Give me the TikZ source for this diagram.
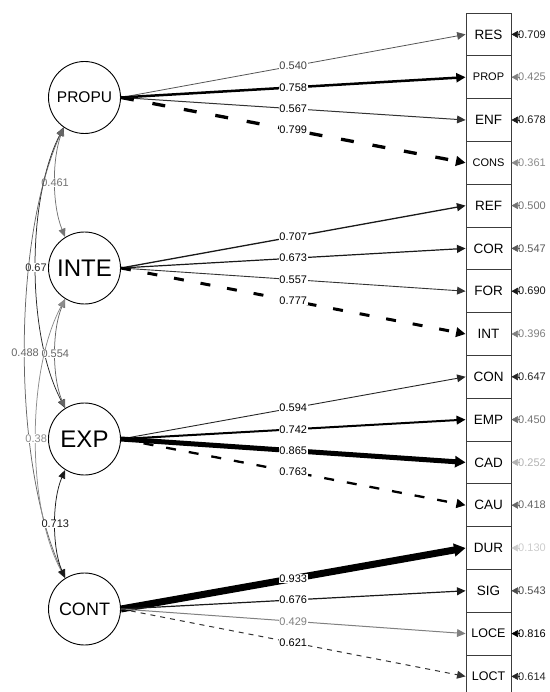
\documentclass[tikz,border=0pt]{standalone}
\usepackage{fontspec}
\setmainfont{Liberation Sans}
\usepackage{tikz}
\usetikzlibrary{arrows.meta}
\definecolor{boxline}{RGB}{60,60,60}
\definecolor{faintline}{RGB}{85,85,85}
\definecolor{palegray}{RGB}{128,128,128}

\begin{document}
\begin{tikzpicture}[x=1pt,y=-1pt,
  every node/.style={font=\fontsize{11}{12}\selectfont},
  latent/.style={circle,draw,line width=0.9pt,minimum size=72pt,inner sep=0pt},
  manifest/.style={rectangle,draw=boxline,line width=0.9pt,minimum width=45pt,minimum height=42.8pt,inner sep=0pt,font=\fontsize{13.5}{14}\selectfont},
  loadtip/.style={-{Triangle[length=8pt 0.5,width=7pt 0.8]}},
  load/.style={loadtip,line width=#1},
  wlabel/.style={fill=white,inner sep=0.6pt},
  reslabel/.style={inner sep=0pt},
  restip/.style={-{Triangle[length=6.5pt,width=7pt]},line width=0.6pt},
  cov/.style={{Triangle[length=8.5pt,width=7pt]}-{Triangle[length=8.5pt,width=7pt]},line width=0.75pt}]
  \useasboundingbox (0,0) rectangle (549,692);
  % latent variables
  \node[latent,font=\fontsize{15.5}{16}\selectfont] (propu) at (84.5,97.5) {PROPU};
  \node[latent,font=\fontsize{24}{24}\selectfont] (inte) at (84.5,268) {INTE};
  \node[latent,font=\fontsize{24}{24}\selectfont] (exp) at (84.5,439) {EXP};
  \node[latent,font=\fontsize{18}{18}\selectfont] (cont) at (84.5,609) {CONT};
  % observed indicators
  \node[manifest] (res) at (488.5,34.4) {RES};
  \node[manifest,font=\fontsize{11}{12}\selectfont] (prop) at (488.5,77.2) {PROP};
  \node[manifest] (enf) at (488.5,120.0) {ENF};
  \node[manifest,font=\fontsize{11}{12}\selectfont] (cons) at (488.5,162.8) {CONS};
  \node[manifest] (ref) at (488.5,205.6) {REF};
  \node[manifest] (cor) at (488.5,248.4) {COR};
  \node[manifest] (for) at (488.5,291.2) {FOR};
  \node[manifest] (int) at (488.5,334.0) {INT};
  \node[manifest] (con) at (488.5,376.8) {CON};
  \node[manifest] (emp) at (488.5,419.6) {EMP};
  \node[manifest] (cad) at (488.5,462.4) {CAD};
  \node[manifest] (cau) at (488.5,505.2) {CAU};
  \node[manifest] (dur) at (488.5,548.0) {DUR};
  \node[manifest] (sig) at (488.5,590.8) {SIG};
  \node[manifest,font=\fontsize{12.5}{13}\selectfont] (loce) at (488.5,633.6) {LOCE};
  \node[manifest,font=\fontsize{12.5}{13}\selectfont] (loct) at (488.5,676.4) {LOCT};
  % loadings
  \draw[load=0.8pt,faintline] (propu.east) -- node[wlabel,text=black!75] (lres) {0.540} (res.west);
  \draw[load=2.5pt] (propu.east) -- node[wlabel] (lprop) {0.758} (prop.west);
  \draw[load=1pt,black!80] (propu.east) -- node[wlabel,text=black] (lenf) {0.567} (enf.west);
  \draw[load=3.3pt,dash pattern=on 13pt off 19pt] (propu.east) -- node[wlabel] (lcons) {0.799} (cons.west);
  \draw[load=1.3pt,black!90] (inte.east) -- node[wlabel,text=black] (lref) {0.707} (ref.west);
  \draw[load=1.2pt,black!90] (inte.east) -- node[wlabel,text=black] (lcor) {0.673} (cor.west);
  \draw[load=0.9pt,black!80] (inte.east) -- node[wlabel,text=black] (lfor) {0.557} (for.west);
  \draw[load=3pt,dash pattern=on 10pt off 17pt] (inte.east) -- node[wlabel] (lint) {0.777} (int.west);
  \draw[load=0.9pt,black!85] (exp.east) -- node[wlabel,text=black] (lcon) {0.594} (con.west);
  \draw[load=2pt] (exp.east) -- node[wlabel] (lemp) {0.742} (emp.west);
  \draw[load=5pt] (exp.east) -- node[wlabel] (lcad) {0.865} (cad.west);
  \draw[load=2.3pt,dash pattern=on 10pt off 13pt] (exp.east) -- node[wlabel] (lcau) {0.763} (cau.west);
  \draw[load=7pt] (cont.east) -- node[wlabel] (ldur) {0.933} (dur.west);
  \draw[load=1.2pt,black!90] (cont.east) -- node[wlabel,text=black] (lsig) {0.676} (sig.west);
  \draw[load=1pt,palegray] (cont.east) -- node[wlabel] (lloce) {0.429} (loce.west);
  \draw[load=1pt,black!80,dash pattern=on 5pt off 5pt] (cont.east) -- node[wlabel,text=black] (lloct) {0.621} (loct.west);
  % residual variances
  \node[reslabel,text=black!90] (eres) at (532,34.4) {0.709};
  \node[reslabel,text=black!50] (eprop) at (532,77.2) {0.425};
  \node[reslabel,text=black!90] (eenf) at (532,120.0) {0.678};
  \node[reslabel,text=black!45] (econs) at (532,162.8) {0.361};
  \node[reslabel,text=black!55] (eref) at (532,205.6) {0.500};
  \node[reslabel,text=black!65] (ecor) at (532,248.4) {0.547};
  \node[reslabel,text=black!90] (efor) at (532,291.2) {0.690};
  \node[reslabel,text=black!50] (eint) at (532,334.0) {0.396};
  \node[reslabel,text=black!85] (econ) at (532,376.8) {0.647};
  \node[reslabel,text=black!55] (eemp) at (532,419.6) {0.450};
  \node[reslabel,text=black!30] (ecad) at (532,462.4) {0.252};
  \node[reslabel,text=black!60] (ecau) at (532,505.2) {0.418};
  \node[reslabel,text=black!20] (edur) at (532,548.0) {0.130};
  \node[reslabel,text=black!70] (esig) at (532,590.8) {0.543};
  \node[reslabel,text=black] (eloce) at (532,633.6) {0.816};
  \node[reslabel,text=black!85] (eloct) at (532,676.4) {0.614};
  \draw[restip,black!90] ([xshift=2pt]eres.west) -- (res.east);
  \draw[restip,black!50] ([xshift=2pt]eprop.west) -- (prop.east);
  \draw[restip,black!90] ([xshift=2pt]eenf.west) -- (enf.east);
  \draw[restip,black!45] ([xshift=2pt]econs.west) -- (cons.east);
  \draw[restip,black!55] ([xshift=2pt]eref.west) -- (ref.east);
  \draw[restip,black!65] ([xshift=2pt]ecor.west) -- (cor.east);
  \draw[restip,black!90] ([xshift=2pt]efor.west) -- (for.east);
  \draw[restip,black!50] ([xshift=2pt]eint.west) -- (int.east);
  \draw[restip,black!85] ([xshift=2pt]econ.west) -- (con.east);
  \draw[restip,black!55] ([xshift=2pt]eemp.west) -- (emp.east);
  \draw[restip,black!30] ([xshift=2pt]ecad.west) -- (cad.east);
  \draw[restip,black!60] ([xshift=2pt]ecau.west) -- (cau.east);
  \draw[restip,black!20] ([xshift=2pt]edur.west) -- (dur.east);
  \draw[restip,black!70] ([xshift=2pt]esig.west) -- (sig.east);
  \draw[restip,black] ([xshift=2pt]eloce.west) -- (loce.east);
  \draw[restip,black!85] ([xshift=2pt]eloct.west) -- (loct.east);
  % factor covariances
  \draw[cov,black!55] (propu.235) .. controls (52,160) and (52,205) .. node[wlabel,text=black!55] (cpi) {0.461} (inte.122);
  \draw[cov,black!85] (propu.235) .. controls (26.5,200) and (26.5,335) .. node[wlabel,text=black!85] (cpe) {0.67} (exp.122);
  \draw[cov,black!60] (propu.235) .. controls (12,240) and (12,465) .. node[wlabel,text=black!60] (cpc) {0.488} (cont.122);
  \draw[cov,black!60] (inte.238) .. controls (52,330) and (52,377) .. node[wlabel,text=black!60] (cie) {0.554} (exp.122);
  \draw[cov,black!45] (inte.238) .. controls (26.5,370) and (26.5,507) .. node[wlabel,text=black!45] (cic) {0.38} (cont.122);
  \draw[cov,black!90] (exp.238) .. controls (52,500) and (52,548) .. node[wlabel,text=black!90] (cec) {0.713} (cont.122);
\end{tikzpicture}
\end{document}
